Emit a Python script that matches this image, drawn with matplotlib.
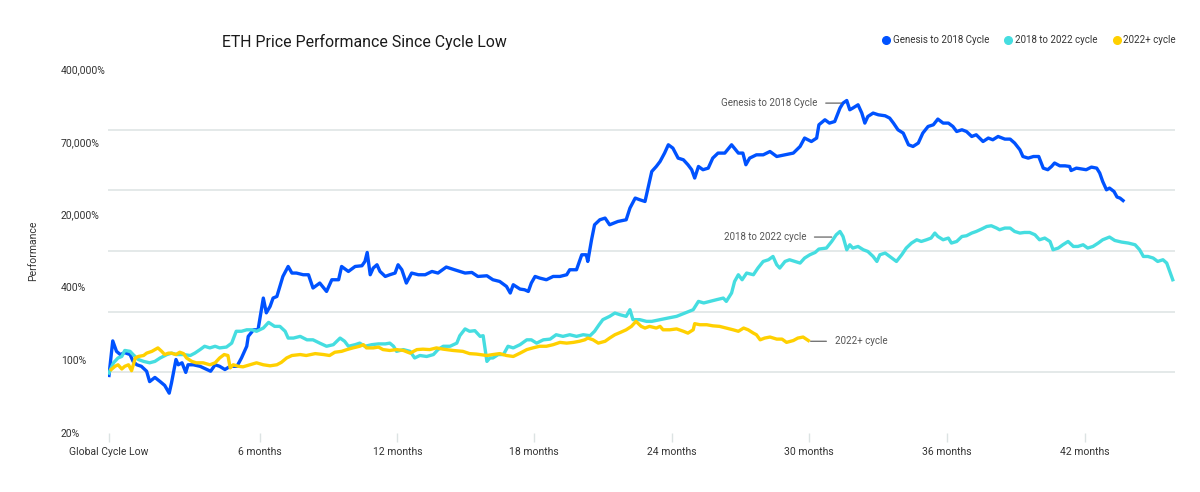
import numpy as np
import matplotlib
matplotlib.use('Agg')
import matplotlib.pyplot as plt
from matplotlib.lines import Line2D
from matplotlib.ticker import FixedLocator

plt.rcParams['font.family'] = ['Roboto', 'DejaVu Sans']

# y axis labels (the source chart spaces them evenly, log inside each band)
level_values = [20, 100, 400, 20000, 70000, 400000]
level_labels = ['20%', '100%', '400%', '20,000%', '70,000%', '400,000%']

# x axis: days since cycle low
tick_days = [0, 200, 383, 565, 748, 930, 1113, 1296]
tick_labels = ['Global Cycle Low', '6 months', '12 months', '18 months',
               '24 months', '30 months', '36 months', '42 months']

series_names = ['Genesis to 2018 Cycle', '2018 to 2022 cycle', '2022+ cycle']

# Genesis to 2018 Cycle
blue_days = [0, 5, 10, 15, 21, 28, 32, 37, 43, 50,
             54, 61, 68, 74, 80, 83, 89, 92, 97, 102,
             105, 112, 121, 130, 135, 141, 147, 154, 161, 170,
             176, 183, 185, 192, 198, 201, 205, 209, 214, 218,
             223, 227, 231, 238, 243, 249, 258, 265, 271, 280,
             289, 296, 305, 309, 318, 327, 336, 340, 343, 347,
             351, 356, 360, 367, 373, 380, 384, 389, 395, 402,
             411, 420, 429, 437, 448, 459, 473, 482, 490, 502,
             510, 519, 528, 533, 537, 546, 552, 557, 561, 566,
             572, 581, 590, 599, 608, 612, 621, 628, 634, 636,
             641, 645, 652, 659, 665, 676, 687, 692, 699, 705,
             712, 716, 721, 727, 732, 738, 743, 749, 756, 763,
             769, 774, 778, 783, 789, 796, 802, 809, 818, 827,
             836, 842, 846, 851, 860, 869, 878, 887, 898, 909,
             918, 924, 933, 940, 943, 951, 957, 964, 971, 975,
             980, 984, 988, 995, 1000, 1004, 1008, 1015, 1022, 1031,
             1037, 1042, 1048, 1055, 1062, 1068, 1075, 1081, 1088, 1095,
             1101, 1108, 1115, 1121, 1126, 1133, 1139, 1146, 1152, 1161,
             1168, 1174, 1181, 1190, 1197, 1203, 1210, 1214, 1221, 1228,
             1235, 1241, 1247, 1252, 1256, 1263, 1270, 1276, 1278, 1285,
             1298, 1305, 1312, 1316, 1320, 1325, 1329, 1335, 1339, 1343,
             1347]
blue_vals = [71, 144, 118, 111, 115, 111, 97, 90, 87, 78,
             62, 68, 62, 57, 48, 60, 101, 90, 94, 76,
             90, 90, 87, 81, 78, 90, 87, 81, 87, 87,
             104, 130, 157, 178, 178, 230, 326, 246, 278, 326,
             336, 420, 719, 1231, 863, 863, 788, 788, 395, 504,
             370, 602, 602, 1231, 941, 1231, 1279, 1612, 2616, 788,
             1130, 1349, 941, 719, 788, 863, 1349, 1031, 504, 863,
             788, 788, 941, 863, 1192, 1031, 863, 892, 719, 746,
             602, 549, 420, 359, 460, 387, 382, 370, 504, 719,
             660, 602, 719, 719, 788, 1031, 1031, 2311, 2311, 1612,
             5180, 11600, 15190, 16640, 11600, 13860, 15190, 22400, 26620, 25860,
             25100, 31620, 42100, 45900, 50000, 57800, 66700, 63000, 53000, 51500,
             47300, 43400, 37600, 45900, 43400, 44600, 53000, 57800, 57800, 66700,
             57800, 57800, 47300, 53000, 56100, 56100, 59400, 54500, 56100, 57800,
             64800, 76900, 70800, 76900, 105700, 119200, 110100, 114400, 157800, 177800,
             189300, 151500, 157800, 170800, 140000, 110100, 129000, 140000, 134300, 131200,
             124100, 110100, 93800, 86600, 66700, 64800, 68700, 86600, 101500, 105700,
             121200, 110100, 110100, 101500, 90000, 93800, 90000, 79900, 83200, 70800,
             76900, 73800, 79900, 75000, 75000, 68700, 61200, 54500, 53000, 54500,
             54500, 44600, 43400, 45900, 48700, 46400, 46400, 45900, 42800, 44600,
             43400, 45400, 44600, 41000, 35400, 30700, 31620, 29800, 27100, 26600,
             25500]

# 2018 to 2022 cycle
cyan_days = [0, 6, 12, 17, 21, 28, 32, 39, 46, 54,
             61, 68, 77, 83, 90, 99, 108, 114, 121, 127,
             134, 141, 147, 156, 163, 169, 176, 183, 190, 196,
             205, 212, 220, 227, 234, 238, 245, 254, 263, 271,
             280, 289, 298, 307, 313, 318, 327, 333, 340, 349,
             358, 367, 373, 378, 382, 391, 400, 406, 413, 422,
             431, 437, 444, 453, 462, 466, 473, 479, 486, 493,
             497, 499, 502, 506, 510, 517, 524, 530, 537, 546,
             555, 561, 568, 577, 586, 594, 603, 612, 621, 630,
             639, 645, 651, 656, 665, 672, 679, 687, 692, 696,
             705, 714, 721, 732, 743, 754, 765, 776, 783, 790,
             798, 807, 816, 820, 827, 831, 836, 841, 847, 856,
             862, 869, 876, 882, 887, 891, 898, 904, 911, 918,
             924, 931, 938, 943, 953, 960, 966, 971, 975, 980,
             984, 988, 995, 1002, 1008, 1015, 1020, 1024, 1031, 1037,
             1046, 1053, 1059, 1066, 1073, 1079, 1086, 1092, 1097, 1101,
             1108, 1115, 1119, 1126, 1133, 1139, 1146, 1152, 1159, 1166,
             1172, 1179, 1183, 1190, 1197, 1203, 1210, 1216, 1223, 1230,
             1236, 1243, 1250, 1254, 1261, 1267, 1274, 1281, 1287, 1294,
             1300, 1307, 1314, 1320, 1329, 1336, 1345, 1354, 1363, 1369,
             1374, 1380, 1387, 1393, 1400, 1405, 1409, 1413]
cyan_vals = [75, 94, 104, 107, 120, 118, 111, 101, 97, 94,
             97, 104, 111, 114, 111, 111, 109, 114, 122, 130,
             126, 130, 126, 128, 138, 173, 173, 178, 178, 173,
             184, 205, 190, 190, 173, 152, 152, 157, 147, 147,
             138, 130, 134, 152, 143, 130, 134, 138, 130, 134,
             136, 136, 138, 130, 118, 122, 118, 104, 109, 107,
             111, 122, 130, 130, 138, 159, 181, 173, 175, 157,
             159, 130, 97, 104, 104, 111, 111, 130, 126, 134,
             147, 147, 138, 147, 149, 162, 157, 162, 157, 162,
             159, 173, 196, 216, 230, 245, 237, 230, 261, 216,
             216, 209, 209, 216, 223, 230, 245, 261, 306, 297,
             306, 316, 326, 306, 359, 549, 788, 602, 863, 788,
             1130, 1612, 1766, 2108, 1349, 1130, 1612, 1766, 1612, 1478,
             1935, 2311, 2616, 3140, 3313, 4726, 6777, 8092, 6183, 3025,
             3956, 3313, 3613, 3025, 2760, 2108, 1612, 2311, 2531, 2108,
             1612, 2311, 3313, 4335, 5180, 4726, 5180, 5673, 7425, 6183,
             5180, 5673, 4335, 4726, 6183, 6423, 7425, 8092, 9210, 10590,
             11000, 9720, 8870, 9720, 9720, 8092, 7425, 7670, 7670, 6777,
             5180, 5673, 4726, 3025, 3313, 3956, 4726, 3613, 3613, 3956,
             3313, 3613, 4335, 5180, 5988, 4987, 4575, 4335, 3956, 3025,
             2108, 2108, 1935, 1612, 1766, 1478, 941, 602]

# 2022+ cycle
yellow_days = [3, 8, 12, 17, 21, 26, 30, 35, 39, 46,
               50, 57, 61, 65, 70, 74, 79, 83, 89, 94,
               99, 103, 110, 116, 125, 134, 141, 147, 153, 158,
               161, 165, 172, 178, 187, 196, 205, 214, 223, 229,
               236, 243, 254, 262, 274, 285, 293, 300, 309, 316,
               324, 333, 338, 342, 351, 358, 364, 373, 382, 391,
               400, 409, 417, 426, 435, 444, 457, 470, 479, 488,
               502, 510, 519, 528, 537, 546, 555, 563, 572, 581,
               590, 599, 608, 617, 625, 632, 636, 643, 650, 659,
               665, 672, 679, 687, 694, 700, 707, 712, 718, 727,
               732, 736, 745, 754, 763, 769, 776, 778, 785, 794,
               802, 811, 820, 829, 836, 843, 849, 856, 860, 865,
               871, 878, 887, 894, 900, 909, 915, 922, 929]
yellow_vals = [81, 87, 90, 82, 87, 90, 79, 104, 107, 109,
               114, 118, 122, 126, 118, 111, 114, 114, 111, 116,
               113, 104, 97, 94, 94, 90, 94, 104, 111, 109,
               84, 90, 87, 86, 90, 94, 90, 88, 90, 95,
               104, 109, 111, 109, 113, 111, 109, 116, 118, 122,
               126, 130, 134, 126, 126, 128, 122, 120, 122, 120,
               114, 122, 123, 122, 126, 123, 120, 118, 113, 112,
               109, 111, 113, 109, 107, 114, 122, 126, 130, 130,
               134, 140, 138, 140, 143, 147, 152, 147, 138, 143,
               152, 162, 169, 178, 190, 209, 190, 184, 190, 184,
               190, 178, 178, 181, 173, 167, 178, 200, 196, 196,
               192, 190, 184, 178, 173, 184, 178, 167, 162, 147,
               152, 155, 149, 149, 140, 145, 152, 155, 145]

colors = ['#0052ff', '#45dde0', '#ffd000']
grid_color = '#dce3e3'
text_color = '#333333'


def fwd(v):
    v = np.clip(np.asarray(v, dtype=float), 1e-9, None)
    return np.interp(np.log10(v), np.log10(level_values), np.arange(len(level_values)))


def inv(p):
    return 10 ** np.interp(p, np.arange(len(level_values)), np.log10(level_values))


fig = plt.figure(figsize=(12, 4.92), dpi=100)
ax = fig.add_axes([108 / 1200, 1 - 432.7 / 492, (1175 - 108) / 1200, (432.7 - 69.3) / 492])
ax.set_yscale('function', functions=(fwd, inv))

ax.plot(blue_days, blue_vals, color=colors[0], lw=2.4, solid_joinstyle='round', zorder=3)
ax.plot(cyan_days, cyan_vals, color=colors[1], lw=2.4, solid_joinstyle='round', zorder=3)
ax.plot(yellow_days, yellow_vals, color=colors[2], lw=2.4, solid_joinstyle='round', zorder=3)

ax.set_xlim(-1.3, 1416)
ax.set_ylim(level_values[0], level_values[-1])

# labels and gridlines do not line up in the source chart
ax.set_yticks(level_values, level_labels)
grid_pos = inv(np.linspace(0, len(level_values) - 1, 7))
ax.yaxis.set_minor_locator(FixedLocator(grid_pos))
ax.grid(which='minor', axis='y', color=grid_color, lw=1.1)
ax.tick_params(axis='y', which='both', length=0)
ax.tick_params(axis='y', which='major', pad=33.8, labelsize=7.5, labelcolor=text_color)
for lbl in ax.get_yticklabels():
    lbl.set_horizontalalignment('left')

ax.set_xticks(tick_days, tick_labels)
ax.tick_params(axis='x', length=6.5, width=1, color=grid_color, pad=4,
               labelsize=7.5, labelcolor=text_color)

for s in ax.spines.values():
    s.set_visible(False)

ax.set_ylabel('Performance', fontsize=7.5, color=text_color, va='center')
ax.yaxis.set_label_coords((33 - 108) / 1067, 0.5)

# end-of-line annotations
arrow = dict(arrowstyle='-', color='#666666', lw=0.9, shrinkA=4, shrinkB=0)
ax.annotate(series_names[0], xy=(973, 177800), xytext=(941, 177800), ha='right', va='center',
            fontsize=7, color='#555555', arrowprops=arrow)
ax.annotate(series_names[1], xy=(960, 5990), xytext=(926, 5990), ha='right', va='center',
            fontsize=7, color='#555555', arrowprops=arrow)
ax.annotate(series_names[2], xy=(932, 143), xytext=(964, 143), ha='left', va='center',
            fontsize=7, color='#555555', arrowprops=arrow)

fig.text(222 / 1200, 1 - 42 / 492, 'ETH Price Performance Since Cycle Low',
         fontsize=11.4, color='#1a1a1a', ha='left', va='center')

handles = [Line2D([], [], ls='none', marker='o', markersize=5.5, color=c) for c in colors]
fig.legend(handles, series_names, loc='center right', bbox_to_anchor=(1176 / 1200, 1 - 40 / 492),
           ncol=3, frameon=False, handlelength=0.7, handletextpad=0.35, columnspacing=1.6,
           fontsize=7, borderaxespad=0, borderpad=0, labelcolor=text_color)

fig.savefig('out.png', dpi=100)
